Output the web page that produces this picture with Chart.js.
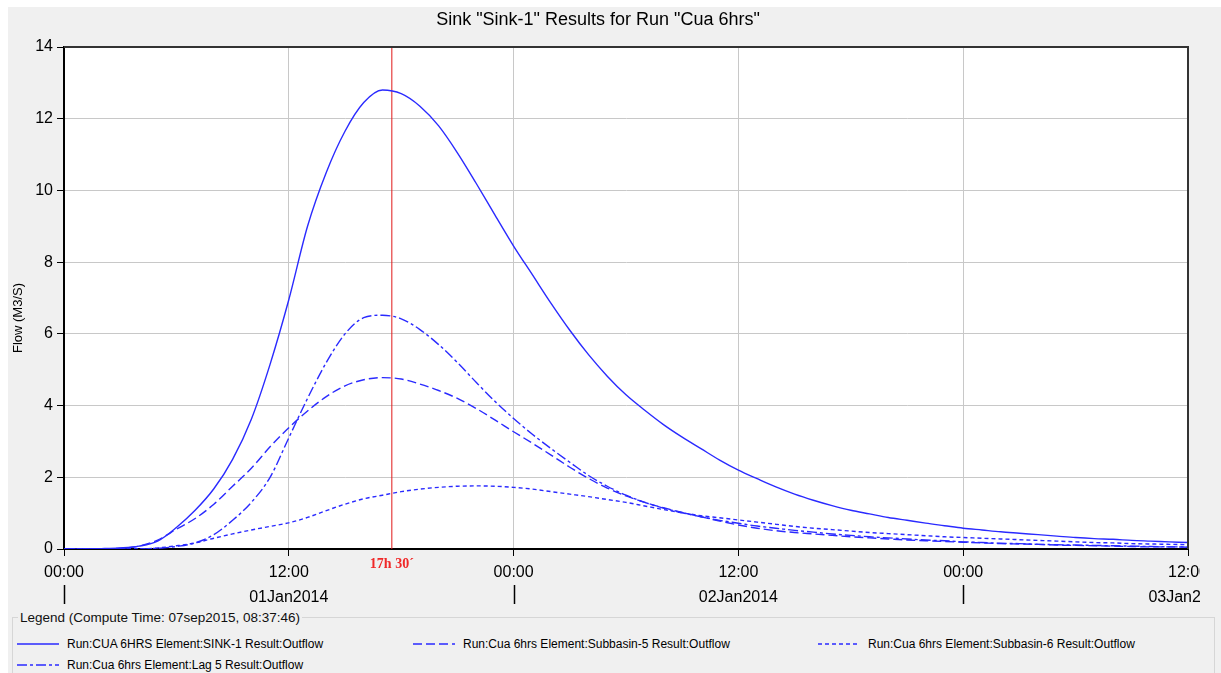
<!DOCTYPE html>
<html>
<head>
<meta charset="utf-8">
<script src="https://cdn.jsdelivr.net/npm/chart.js@4.4.1/dist/chart.umd.min.js"></script>
<style>
  html, body { margin: 0; padding: 0; background: #fff; }
  body { width: 1221px; height: 673px; position: relative; overflow: hidden; font-family: "Liberation Sans", Arial, sans-serif; }
  #panel { position: absolute; left: 8px; top: 7px; right: 0; bottom: 0; background: #f0f0f0; }
  #chart { position: absolute; left: 0; top: 0; }
  #legendBox { position: absolute; left: 12px; top: 610px; width: 1203px; height: 80px; margin: 0; padding: 0;
               border: 1px solid #d6d6d6; box-sizing: border-box; }
  #legendBox legend { margin-left: 5px; padding: 0 2px; font-size: 13.5px; color: #111; }
  #legendItems { position: absolute; left: 17px; top: 633px; display: grid;
                 grid-template-columns: 396px 405px 360px; grid-auto-rows: 21px; }
  .item { display: flex; align-items: center; font-size: 12px; color: #000; white-space: nowrap; }
  .item svg { margin-right: 8px; }
</style>
</head>
<body>
<div id="panel"></div>
<fieldset id="legendBox"><legend id="legendTitle"></legend></fieldset>
<div id="legendItems"></div>
<canvas id="chart" width="1200" height="612"></canvas>
<script>
const chartTitle = 'Sink "Sink-1" Results for Run "Cua 6hrs"';
const yTitle = "Flow (M3/S)";
const legendTitle = "Legend (Compute Time: 07sep2015, 08:37:46)";

// hours since 01Jan2014 00:00
const hours = [0,1,2,3,4,5,6,7,8,9,10,11,12,13,14,15,16,17,18,19,20,
  21,22,23,24,25,26,27,28,29,30,31,32,33,34,35,36,37,38,39,40,
  41,42,43,44,45,46,47,48,49,50,51,52,53,54,55,56,57,58,59,60];

const sink1 = [0,0,0.01,0.03,0.08,0.22,0.6,1.08,1.68,2.5,
  3.62,5.15,6.95,9.0,10.5,11.65,12.45,12.8,12.7,12.35,
  11.8,11.05,10.2,9.32,8.45,7.65,6.85,6.1,5.42,4.82,
  4.3,3.87,3.47,3.12,2.8,2.48,2.2,1.96,1.73,1.53,
  1.36,1.21,1.08,0.98,0.88,0.8,0.72,0.65,0.58,0.53,
  0.48,0.44,0.4,0.36,0.32,0.29,0.27,0.24,0.22,0.2,0.18];

const subbasin5 = [0,0,0,0.02,0.08,0.25,0.55,0.85,1.25,1.75,
  2.25,2.85,3.38,3.85,4.25,4.55,4.72,4.78,4.74,4.6,
  4.42,4.2,3.92,3.6,3.27,2.95,2.62,2.28,1.97,1.7,
  1.48,1.3,1.15,1.02,0.9,0.78,0.67,0.58,0.51,0.46,
  0.42,0.38,0.34,0.31,0.28,0.25,0.23,0.21,0.19,0.17,
  0.15,0.14,0.13,0.11,0.1,0.09,0.08,0.07,0.06,0.06,0.05];

const subbasin6 = [0,0,0,0,0,0.03,0.09,0.17,0.3,0.42,
  0.53,0.63,0.73,0.88,1.07,1.25,1.4,1.5,1.6,1.67,
  1.72,1.75,1.76,1.75,1.72,1.67,1.6,1.53,1.46,1.38,
  1.3,1.2,1.1,1.01,0.93,0.87,0.81,0.75,0.69,0.63,
  0.58,0.54,0.5,0.46,0.43,0.4,0.37,0.34,0.32,0.3,
  0.28,0.26,0.24,0.22,0.2,0.18,0.17,0.15,0.14,0.13,0.12];

const lag5 = [0,0,0,0,0,0.02,0.07,0.17,0.4,0.8,
  1.3,2.0,3.1,4.2,5.2,6.0,6.45,6.52,6.42,6.12,
  5.7,5.2,4.65,4.12,3.64,3.2,2.8,2.42,2.05,1.75,
  1.5,1.3,1.14,1.01,0.9,0.8,0.72,0.64,0.58,0.52,
  0.47,0.42,0.38,0.34,0.31,0.28,0.25,0.23,0.2,0.18,
  0.16,0.15,0.13,0.12,0.11,0.1,0.09,0.08,0.07,0.06,0.06];

const seriesLabels = [
  "Run:CUA 6HRS Element:SINK-1 Result:Outflow",
  "Run:Cua 6hrs Element:Subbasin-5 Result:Outflow",
  "Run:Cua 6hrs Element:Subbasin-6 Result:Outflow",
  "Run:Cua 6hrs Element:Lag 5 Result:Outflow"
];
const seriesValues = [sink1, subbasin5, subbasin6, lag5];

const tickHours = [0, 12, 24, 36, 48, 60];
const tickTimes = ["00:00", "12:00", "00:00", "12:00", "00:00", "12:00"];
const tickDates = ["", "01Jan2014", "", "02Jan2014", "", "03Jan2014"];
const dayStartHours = [0, 24, 48];

const markerHour = 17.5;
const markerLabel = "17h 30\u00b4";

// styles
const lineColor = "#2a2aff";
const dashes = [[], [9, 4], [4, 3], [10, 3, 3, 3]];

document.getElementById("legendTitle").textContent = legendTitle;

const legendDiv = document.getElementById("legendItems");
seriesLabels.forEach((label, i) => {
  const item = document.createElement("div");
  item.className = "item";
  item.innerHTML = '<svg width="42" height="10"><line x1="0" y1="5" x2="42" y2="5" stroke="' + lineColor +
    '" stroke-width="1.5" stroke-dasharray="' + (dashes[i].length ? dashes[i].join(" ") : "none") + '"/></svg>';
  const span = document.createElement("span");
  span.textContent = label;
  item.appendChild(span);
  legendDiv.appendChild(item);
});

const framePlugin = {
  id: "frame",
  beforeDraw(chart) {
    const { ctx, chartArea: a } = chart;
    ctx.save();
    ctx.fillStyle = "#fff";
    ctx.fillRect(a.left, a.top, a.width, a.height);
    ctx.restore();
  },
  afterDraw(chart) {
    const { ctx, chartArea: a } = chart;
    const x = chart.scales.x;
    ctx.save();
    ctx.strokeStyle = "#333";
    ctx.lineWidth = 2;
    ctx.beginPath();
    ctx.moveTo(a.left, a.top);
    ctx.lineTo(a.right, a.top);
    ctx.lineTo(a.right, a.bottom);
    ctx.stroke();

    // day separators under the dates row
    ctx.strokeStyle = "#000";
    ctx.lineWidth = 1.5;
    dayStartHours.forEach(h => {
      const px = Math.round(x.getPixelForValue(h)) + 0.5;
      ctx.beginPath();
      ctx.moveTo(px, a.bottom + 36);
      ctx.lineTo(px, a.bottom + 55);
      ctx.stroke();
    });

    // current time marker label
    ctx.fillStyle = "#f02828";
    ctx.font = 'bold 14px "Liberation Serif", serif';
    ctx.textAlign = "center";
    ctx.textBaseline = "middle";
    ctx.fillText(markerLabel, x.getPixelForValue(markerHour), a.bottom + 15);

    // y axis title
    ctx.translate(18, 318);
    ctx.rotate(-Math.PI / 2);
    ctx.fillStyle = "#000";
    ctx.font = '13px "Liberation Sans", Arial, sans-serif';
    ctx.fillText(yTitle, 0, 0);
    ctx.restore();
  }
};

const datasets = seriesValues.map((vals, i) => ({
  label: seriesLabels[i],
  data: hours.map((h, j) => ({ x: h, y: vals[j] })),
  borderColor: lineColor,
  borderWidth: 1.4,
  borderDash: dashes[i],
  pointRadius: 0,
  fill: false,
  cubicInterpolationMode: "monotone"
}));

datasets.push({
  label: "marker",
  data: [{ x: markerHour, y: 0 }, { x: markerHour, y: 14 }],
  borderColor: "#e01818",
  borderWidth: 1,
  pointRadius: 0
});

new Chart(document.getElementById("chart"), {
  type: "line",
  data: { datasets: datasets },
  plugins: [framePlugin],
  options: {
    responsive: false,
    animation: false,
    layout: { padding: { left: 8, top: 7, right: 12, bottom: 0 } },
    plugins: {
      legend: { display: false },
      tooltip: { enabled: false },
      title: {
        display: true,
        text: chartTitle,
        color: "#000",
        font: { family: '"Liberation Sans", Arial, sans-serif', size: 18, weight: "normal", lineHeight: 1.2 },
        padding: { top: 2, bottom: 16.4 }
      }
    },
    scales: {
      x: {
        type: "linear",
        min: 0,
        max: 60,
        afterBuildTicks: (scale) => { scale.ticks = tickHours.map(v => ({ value: v })); },
        afterFit: (scale) => { scale.height = 63; scale.paddingLeft = 0; scale.paddingRight = 0; },
        ticks: {
          autoSkip: false,
          maxRotation: 0,
          padding: 4,
          color: "#000",
          font: { family: '"Liberation Sans", Arial, sans-serif', size: 16, lineHeight: "25px" },
          callback: (value) => {
            const i = tickHours.indexOf(value);
            return [tickTimes[i], tickDates[i]];
          }
        },
        grid: { color: "#c8c8c8", lineWidth: 1, tickColor: "#000", tickLength: 7 },
        border: { color: "#000", width: 2 }
      },
      y: {
        min: 0,
        max: 14,
        afterFit: (scale) => { scale.width = 56; scale.paddingTop = 0; scale.paddingBottom = 0; },
        ticks: {
          stepSize: 2,
          padding: 4,
          color: "#000",
          font: { family: '"Liberation Sans", Arial, sans-serif', size: 16 }
        },
        grid: { color: "#c8c8c8", lineWidth: 1, tickColor: "#000", tickLength: 7 },
        border: { color: "#000", width: 2 }
      }
    }
  }
});
</script>
</body>
</html>
